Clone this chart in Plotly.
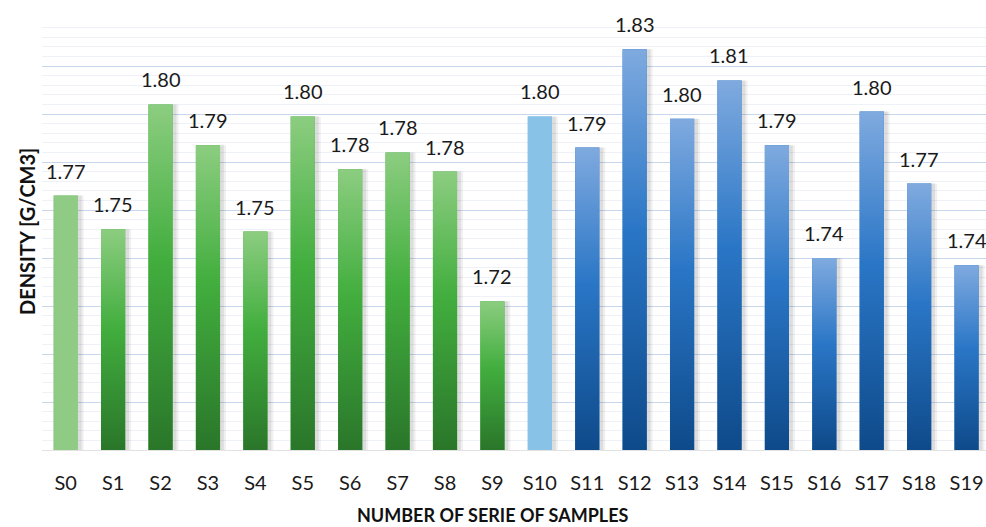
import plotly.graph_objects as go

categories = ["S0", "S1", "S2", "S3", "S4", "S5", "S6", "S7", "S8", "S9",
              "S10", "S11", "S12", "S13", "S14", "S15", "S16", "S17", "S18", "S19"]
density = [1.766, 1.752, 1.804, 1.787, 1.751, 1.799, 1.777, 1.784, 1.776, 1.722,
           1.799, 1.786, 1.827, 1.798, 1.814, 1.787, 1.740, 1.801, 1.771, 1.737]
# colour group per sample: (top colour, mid colour, bottom colour)
green = ("#8ccd80", "#42ae3e", "#2a762a")
green_flat = ("#8fcb84", "#8fcb84", "#8fcb84")
blue = ("#7faadf", "#2a76c6", "#0e4a8a")
blue_flat = ("#88c2e7", "#88c2e7", "#88c2e7")
styles = [green_flat] + [green] * 9 + [blue_flat] + [blue] * 9

y_min, y_max = 1.66, 1.84
bar_w = 0.51

fig = go.Figure()

x_idx = list(range(len(categories)))

# soft shadow behind bars
for dx, extra, op in [(0.05, 0.10, 0.06), (0.035, 0.06, 0.08)]:
    fig.add_trace(go.Bar(
        x=x_idx, y=density, width=bar_w + extra, offset=-(bar_w) / 2 + dx - extra / 4,
        marker=dict(color=f"rgba(0,0,0,{op})", line=dict(width=0)),
        hoverinfo="skip", showlegend=False))

# main bars (solid base)
fig.add_trace(go.Bar(
    x=x_idx, y=density, width=bar_w,
    marker=dict(color=[s[1] for s in styles], line=dict(width=0)),
    showlegend=False))

# gradient overlay on each bar built from the same data
for i, v in enumerate(density):
    top, mid, bot = styles[i]
    fig.add_trace(go.Scatter(
        x=[i - bar_w / 2, i + bar_w / 2, i + bar_w / 2, i - bar_w / 2, i - bar_w / 2],
        y=[y_min, y_min, v, v, y_min],
        mode="lines", line=dict(width=0), fill="toself",
        fillgradient=dict(type="vertical",
                          colorscale=[[0, bot], [0.55, mid], [1, top]]),
        hoverinfo="skip", showlegend=False))

# value labels above the bars
labels = [dict(x=i, y=v, text=f"{v:.2f}", xref="x", yref="y",
               xanchor="center", yanchor="bottom", yshift=11, showarrow=False,
               font=dict(family="Lato", size=20, color="#1a1a1a"))
          for i, v in enumerate(density)]

fig.update_layout(
    width=986, height=527,
    margin=dict(l=42, r=0, t=18, b=77),
    paper_bgcolor="white", plot_bgcolor="white",
    barmode="overlay",
    font=dict(family="Lato", color="#1a1a1a"),
    xaxis=dict(
        range=[-0.5, 19.41], tickvals=x_idx, ticktext=categories,
        tickfont=dict(family="Lato", size=20, color="#1a1a1a"),
        ticks="outside", ticklen=15, tickcolor="rgba(0,0,0,0)",
        showgrid=False, zeroline=False,
        showline=True, linecolor="#e2e2e2", linewidth=1,
    ),
    yaxis=dict(
        range=[y_min, y_max], tick0=y_min, dtick=0.02,
        showticklabels=False, showgrid=True, gridcolor="#c9d7ed", gridwidth=1.3,
        zeroline=False,
        minor=dict(dtick=0.004, showgrid=True, gridcolor="#eef1f7", gridwidth=1),
    ),
    annotations=labels + [
        dict(text="<b>NUMBER OF SERIE OF SAMPLES</b>", xref="paper", yref="paper",
             x=0.5 - 21 / 944, y=0.0, xanchor="center", yanchor="middle",
             yshift=-(515 - 450), showarrow=False,
             font=dict(family="Lato", size=18, color="#111")),
        dict(text="<b>DENSITY [G/CM3]</b>", xref="paper", yref="paper",
             x=0, y=0.5, xanchor="center", yanchor="middle", xshift=-(42 - 27),
             yshift=2, textangle=-90, showarrow=False,
             font=dict(family="Lato", size=20, color="#111")),
    ],
)

fig.write_html("out.html")
